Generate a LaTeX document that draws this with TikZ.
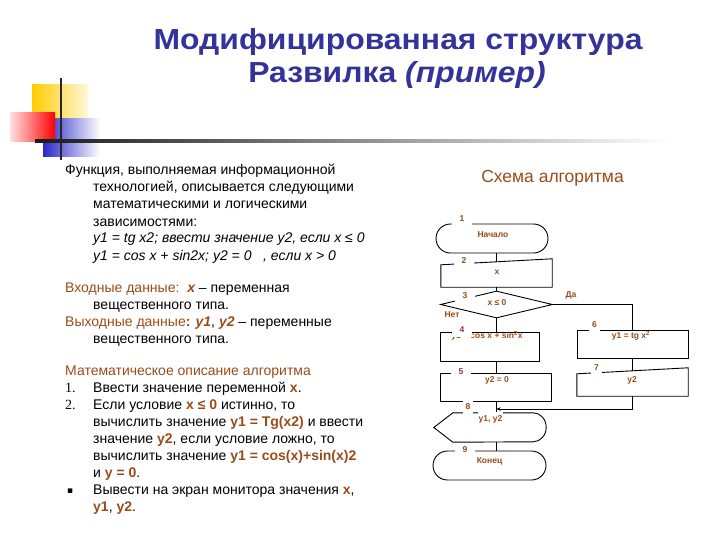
\documentclass[tikz,border=0pt]{standalone}
\usepackage{fontspec}
\setmainfont{Liberation Sans}
\newfontfamily\seriffont{Liberation Serif}
\newfontfamily\dejavu{DejaVu Sans}
\usetikzlibrary{shapes.geometric,shapes.misc,arrows.meta}
\definecolor{titleblue}{RGB}{51,51,153}
\definecolor{brn}{RGB}{153,76,25}
\definecolor{lbl}{RGB}{140,50,90}
\definecolor{gold}{RGB}{255,204,0}
\definecolor{dblue}{RGB}{40,40,200}
\newcommand{\bb}[1]{\textcolor{brn}{\bfseries #1}}
\newcommand{\bbi}[1]{\textcolor{brn}{\bfseries\itshape #1}}
\begin{document}
\begin{tikzpicture}[x=1pt,y=-1pt,
 txt/.style={anchor=base west, inner sep=0, font=\fontsize{14}{16}\selectfont},
 fc/.style={draw, line width=0.9pt, inner sep=0},
 box/.style={inner sep=0},
 ftext/.style={font=\fontsize{8.5}{10}\selectfont\bfseries, text=brn, inner sep=1pt},
 num/.style={font=\fontsize{8.5}{10}\selectfont\bfseries, text=brn, fill=white, inner xsep=8pt, inner ysep=4pt},
 conn/.style={line width=0.9pt},
 ttl/.style={anchor=base, inner sep=0, font=\fontsize{29}{32}\selectfont\bfseries, text=titleblue},
]
\useasboundingbox (0,0) rectangle (720,540);
% decoration
\shade[left color=gold, right color=gold!15] (32,85) rectangle (88,140);
\shade[left color=dblue, right color=white] (43,119) rectangle (100,157);
\shade[left color=red!12, right color=red] (10,113) rectangle (55,142);
\shade[left color=black!90, middle color=black!55, right color=white] (35,139.6) rectangle (670,142.4);
\fill[black!85] (60,78) rectangle (62.2,160);

% title
\node[ttl] (title1) at (398,50) {\scalebox{1.1}[1]{Модифицированная структура}};
\node[ttl] (title2) at (397,83) {\scalebox{1.1}[1]{Развилка \textit{(пример)}}};

% left text
\node[txt] (l1) at (65,175) {Функция, выполняемая информационной};
\node[txt] (l2) at (93,192) {технологией, описывается следующими};
\node[txt] (l3) at (93,209) {математическими и логическими};
\node[txt] (l4) at (93,226) {зависимостями:};
\node[txt] (l5) at (93,243) {\itshape y1 = tg x2; ввести значение y2, если x ≤ 0};
\node[txt] (l6) at (93,260) {\itshape y1 = cos x + sin2x; y2 = 0\ \ \ , если x > 0};

\node[txt] (l7) at (65,292) {\textcolor{brn}{Входные данные:}\ \ \bbi{x} – переменная};
\node[txt] (l8) at (93,309) {вещественного типа.};
\node[txt] (l9) at (65,326) {\textcolor{brn}{Выходные данные\textbf{:}} \bbi{y1}, \bbi{y2} – переменные};
\node[txt] (l10) at (93,343) {вещественного типа.};

\node[txt, text=brn] (l11) at (65,375) {Математическое описание алгоритма};
\node[txt, font=\fontsize{14}{16}\selectfont\seriffont] (n1l) at (65,392) {1.};
\node[txt] (l12) at (93,392) {Ввести значение переменной \bb{x}.};
\node[txt, font=\fontsize{14}{16}\selectfont\seriffont] (n2l) at (65,409) {2.};
\node[txt] (l13) at (93,409) {Если условие \bb{x ≤ 0} истинно, то};
\node[txt] (l14) at (93,426) {вычислить значение \bb{y1 = Tg(x2)} и ввести};
\node[txt] (l15) at (93,443) {значение \bb{y2}, если условие ложно, то};
\node[txt] (l16) at (93,460) {вычислить значение \bb{y1 = cos(x)+sin(x)2}};
\node[txt] (l17) at (93,477) {и \bb{y = 0}.};
\node[txt, font=\fontsize{9}{10}\selectfont\dejavu] (bul) at (67,493) {▪};
\node[txt] (l18) at (93,494) {Вывести на экран монитора значения \bb{x},};
\node[txt] (l19) at (93,511) {\bb{y1}, \bb{y2}.};

\node[font=\fontsize{17.5}{20}\selectfont, text=brn] (schema) at (552.5,178) {Схема алгоритма};

% flowchart shapes
\node[fc, rounded rectangle, minimum width=112pt, minimum height=29pt] (n1) at (492,238.5) {};
\node[box, minimum width=111pt, minimum height=28pt] (n2) at (496.5,273) {};
\draw[conn] (n2.north east) -- (n2.south east) -- (n2.south west) -- ([yshift=-6pt]n2.north west) -- cycle;
\node[fc, diamond, minimum width=112pt, minimum height=27pt] (n3) at (496.5,304.5) {};
\node[fc, rectangle, minimum width=99pt, minimum height=29pt] (n4) at (489.5,346.5) {};
\node[fc, rectangle, minimum width=111pt, minimum height=28pt] (n5) at (495.5,387) {};
\node[fc, rectangle, minimum width=111pt, minimum height=28pt] (n6) at (632.5,344) {};
\node[box, minimum width=111pt, minimum height=28pt] (n7) at (632.5,382) {};
\draw[conn] (n7.north east) -- (n7.south east) -- (n7.south west) -- ([yshift=-6pt]n7.north west) -- cycle;
\node[box, minimum width=112pt, minimum height=29pt] (n8) at (490,427.5) {};
\draw[conn] (n8.west) -- ([xshift=19pt]n8.north west) -- ([xshift=-13pt]n8.north east)
  arc[start angle=90, end angle=-90, x radius=13pt, y radius=14.5pt] -- ([xshift=19pt]n8.south west) -- cycle;
\node[fc, rounded rectangle, minimum width=113pt, minimum height=29pt] (n9) at (489.5,465.5) {};

% connectors
\coordinate (n2top) at ([yshift=-3pt]n2.north);
\coordinate (n7top) at ([yshift=-3pt]n7.north);
\coordinate (j) at (496.5,409);
\draw[conn] (n1.south -| n2top) -- (n2top);
\draw[conn] (n2.south) -- (n3.north);
\draw[conn] (n3.south) -- (n3.south |- n4.north);
\draw[conn] (n3.south |- n4.south) -- (n3.south |- n5.north);
\draw[conn] (n3.south |- n5.south) -- (n3.south |- n8.north);
\draw[conn] (n3.south |- n8.south) -- (n3.south |- n9.north);
\draw[conn] (n3.east) -- (n6.north |- n3.east) -- (n6.north);
\draw[conn] (n6.south) -- (n7top);
\draw[conn, -{Stealth[length=4pt,width=3.5pt]}] (n7.south) -- (n7.south |- j) -- (j);

% texts
\node[ftext] (t1) at (493,235) {Начало};
\node[ftext] (t2) at (497,272) {x};
\node[ftext] (t3) at (497,303) {x ≤ 0};
\node[ftext] (t4) at (487,336) {y1 = cos x + sin\textsuperscript{2}x};
\node[ftext] (t5) at (497,380) {y2 = 0};
\node[ftext] (t6) at (631,336) {y1 = tg x\textsuperscript{2}};
\node[ftext] (t7) at (632,380) {y2};
\node[ftext, fill=white, inner ysep=3pt] (t8) at (490.5,419) {y1, y2};
\node[ftext] (t9) at (489.5,461) {Конец};
\node[ftext] (yes) at (571,295) {Да};
\node[ftext] (no) at (452,315) {Нет};

% labels
\node[num] (L1) at (462,219) {1};
\node[num] (L2) at (464,261) {2};
\node[num] (L3) at (465,296) {3};
\node[num, text=lbl] (L4) at (462,330) {4};
\node[num, text=lbl] (L5) at (461,372) {5};
\node[num, inner xsep=3pt] (L6) at (594.5,325) {6\hspace{12pt}};
\node[num, inner xsep=3pt] (L7) at (596.5,368) {7\hspace{14pt}};
\node[num, inner xsep=2.5pt] (L8) at (468,407) {8\hspace{8pt}};
\node[num] (L9) at (465,450) {9};
\end{tikzpicture}
\end{document}
